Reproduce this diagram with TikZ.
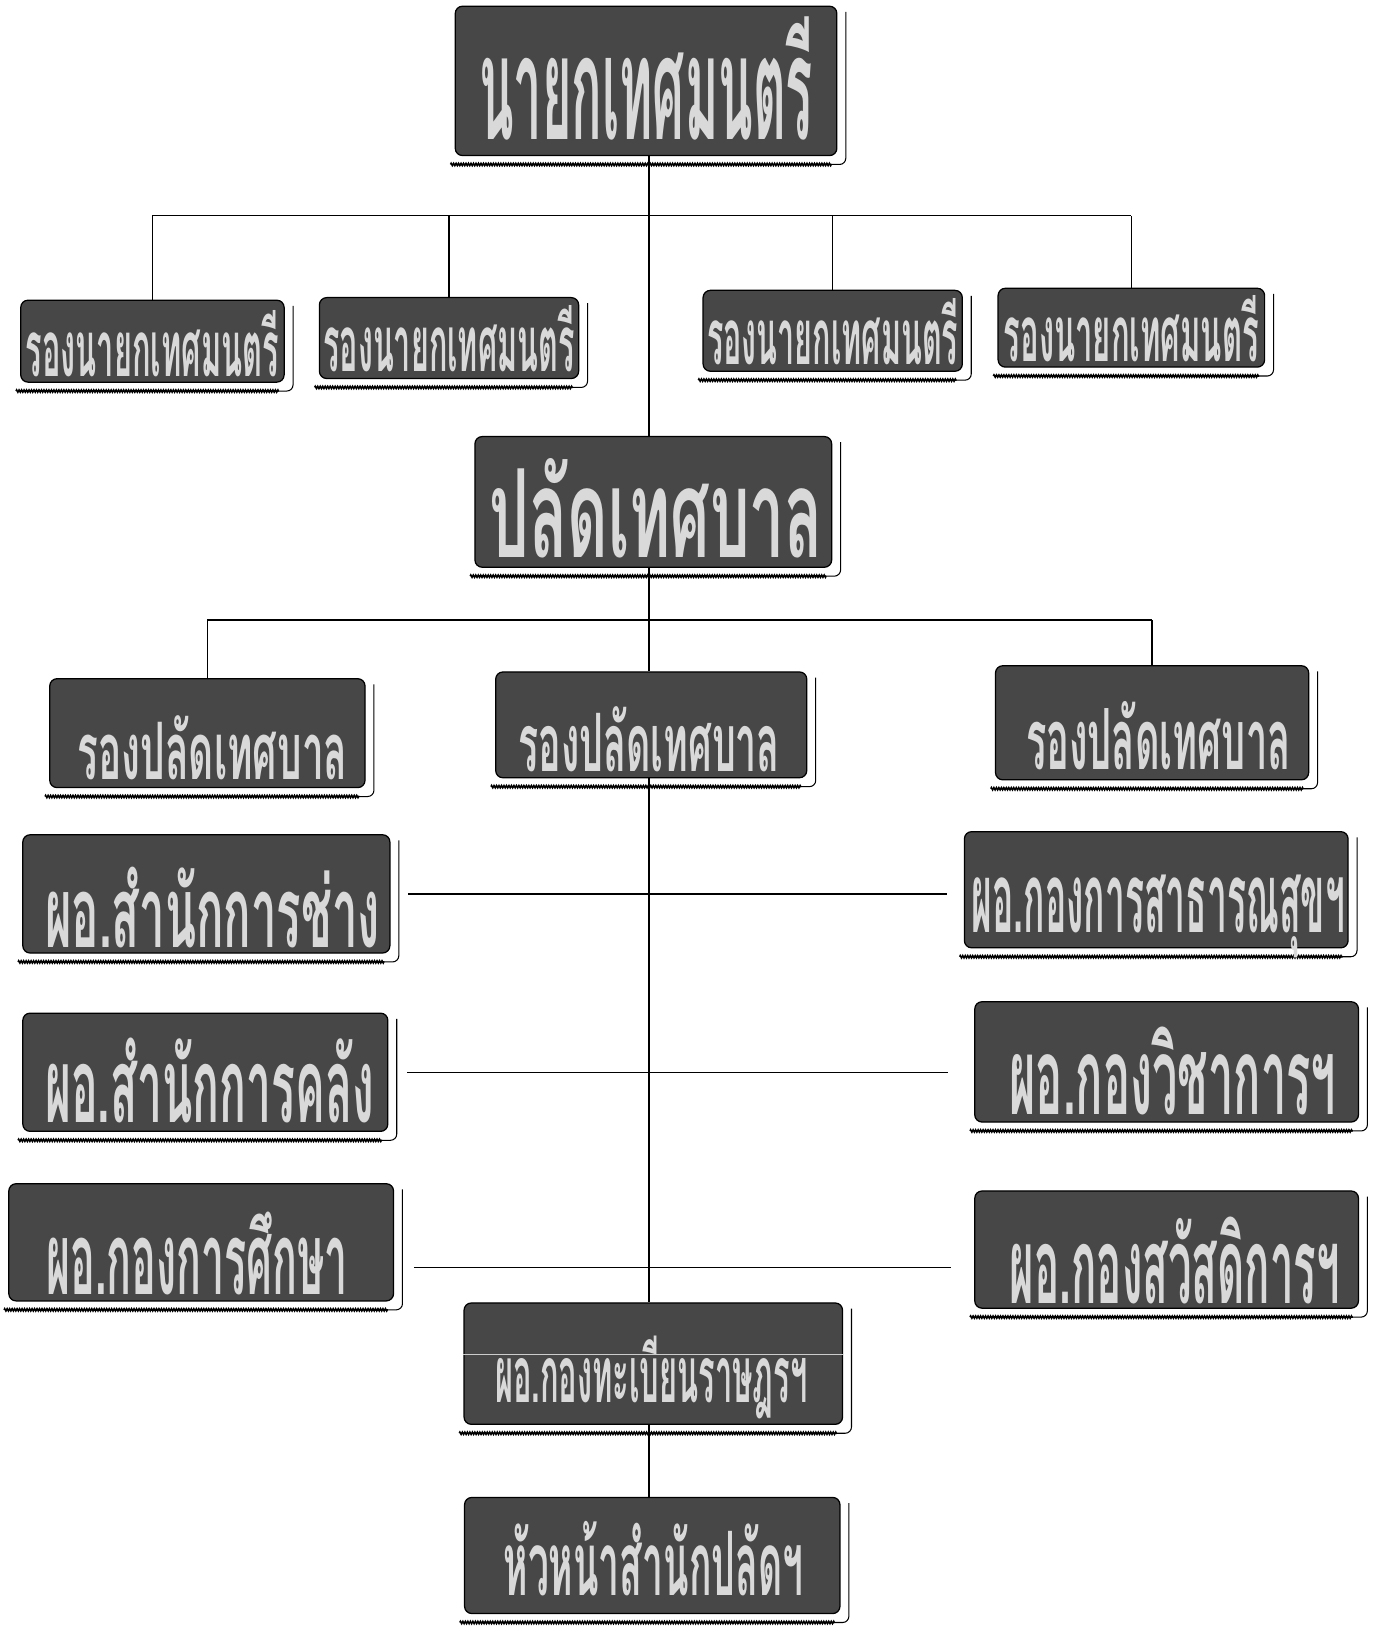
\documentclass[tikz,border=0pt]{standalone}
\usepackage{fontspec}
\usepackage{graphicx}
\newfontfamily\thai[Script=Thai]{Loma}
\usetikzlibrary{decorations.pathmorphing}
\tikzset{
  orgbox/.style={draw=black, line width=1.2pt, fill=black!72, rounded corners=7pt, inner sep=0pt},
  orgtext/.style={inner sep=0pt, text=white!85!black, font=\thai\bfseries},
  conn/.style={line width=1.3pt, draw=black},
  shr/.style={line width=1pt, rounded corners=6pt},
  shb/.style={line width=1.5pt, decorate, decoration={zigzag, amplitude=1.1pt, segment length=2.4pt}},
}
\newcommand\orgbx[8]{%
  \node[orgbox, minimum width=#3pt, minimum height=#4pt] (#1) at (#2) {};
  \draw[shr] ([xshift=8pt,yshift=-6pt]#1.north east) -- ([xshift=8pt,yshift=-8pt]#1.south east) -- ([xshift=-14pt,yshift=-8pt]#1.south east);
  \draw[shb] ([xshift=-4pt,yshift=-8pt]#1.south west) -- ([xshift=-6pt,yshift=-8pt]#1.south east);
  \node[orgtext] (#1-t) at (#6) {\resizebox*{#7pt}{#8pt}{#5}};
}
\begin{document}
\begin{tikzpicture}[x=1pt,y=-1pt]
\useasboundingbox[fill=white] (0,0) rectangle (1329,1568);
\orgbx{top}{623,78}{368}{144}{นายกเทศมนตรี}{623,76}{322}{119}
\orgbx{ra}{147,329}{254}{79}{รองนายกเทศมนตรี}{147,331}{244}{64}
\orgbx{rb}{433,326}{250}{78}{รองนายกเทศมนตรี}{433,327}{242}{64}
\orgbx{rc}{803,319}{250}{78}{รองนายกเทศมนตรี}{803,320}{242}{64}
\orgbx{rd}{1091,316}{257}{76}{รองนายกเทศมนตรี}{1091,317}{246}{64}
\orgbx{pl}{630,484}{344}{126}{ปลัดเทศบาล}{633,490}{321}{96}
\orgbx{dl}{200,707}{304}{105}{รองปลัดเทศบาล}{205,721}{260}{62}
\orgbx{dm}{628,699}{300}{102}{รองปลัดเทศบาล}{626,713}{252}{63}
\orgbx{dr}{1111,697}{302}{110}{รองปลัดเทศบาล}{1117,709}{255}{66}
\orgbx{c1}{199,862}{354}{114}{ผอ.สำนักการช่าง}{205,875}{323}{78}
\orgbx{s1}{1115,858}{370}{112}{ผอ.กองการสาธารณสุขฯ}{1117,884}{360}{80}
\orgbx{c2}{198,1034}{352}{114}{ผอ.สำนักการคลัง}{202,1042}{317}{82}
\orgbx{s2}{1125,1024}{370}{116}{ผอ.กองวิชาการฯ}{1131,1033}{315}{85}
\orgbx{c3}{194,1198}{371}{113}{ผอ.กองการศึกษา}{190,1209}{291}{80}
\orgbx{s3}{1125,1205}{370}{113}{ผอ.กองสวัสดิการฯ}{1133,1216}{318}{84}
\orgbx{tb}{630,1315}{365}{117}{ผอ.กองทะเบียนราษฎรฯ}{628,1328}{301}{80}
\orgbx{hn}{629,1500}{362}{112}{หัวหน้าสำนักปลัดฯ}{630,1503}{289}{72}
\draw[white!80!black, line width=0.8pt] ([yshift=-50pt]tb.north west) -- ([yshift=-50pt]tb.north east);
\coordinate (bar1) at (0,208);
\coordinate (bar2) at (0,598);
\coordinate (spine) at (626,0);
\draw[conn] (spine |- top.south) -- (spine |- pl.north);
\draw[conn] (ra.north |- bar1) -- (rd.north |- bar1);
\foreach \n in {ra,rb,rc,rd} \draw[conn] (\n.north) -- (\n.north |- bar1);
\draw[conn] (spine |- pl.south) -- (spine |- dm.north);
\draw[conn] (dl.north |- bar2) -- (dr.north |- bar2);
\foreach \n in {dl,dr} \draw[conn] (\n.north) -- (\n.north |- bar2);
\draw[conn] (spine |- dm.south) -- (spine |- tb.north);
\draw[conn] ([xshift=17pt]c1.east) -- ([xshift=-16pt]c1.east -| s1.west);
\draw[conn] ([xshift=18pt]c2.east) -- ([xshift=-25pt]c2.east -| s2.west);
\draw[conn] ([xshift=19pt,yshift=-24pt]c3.east) -- ([xshift=-22pt,yshift=-24pt]c3.east -| s3.west);
\draw[conn] (spine |- tb.south) -- (spine |- hn.north);
\end{tikzpicture}
\end{document}
